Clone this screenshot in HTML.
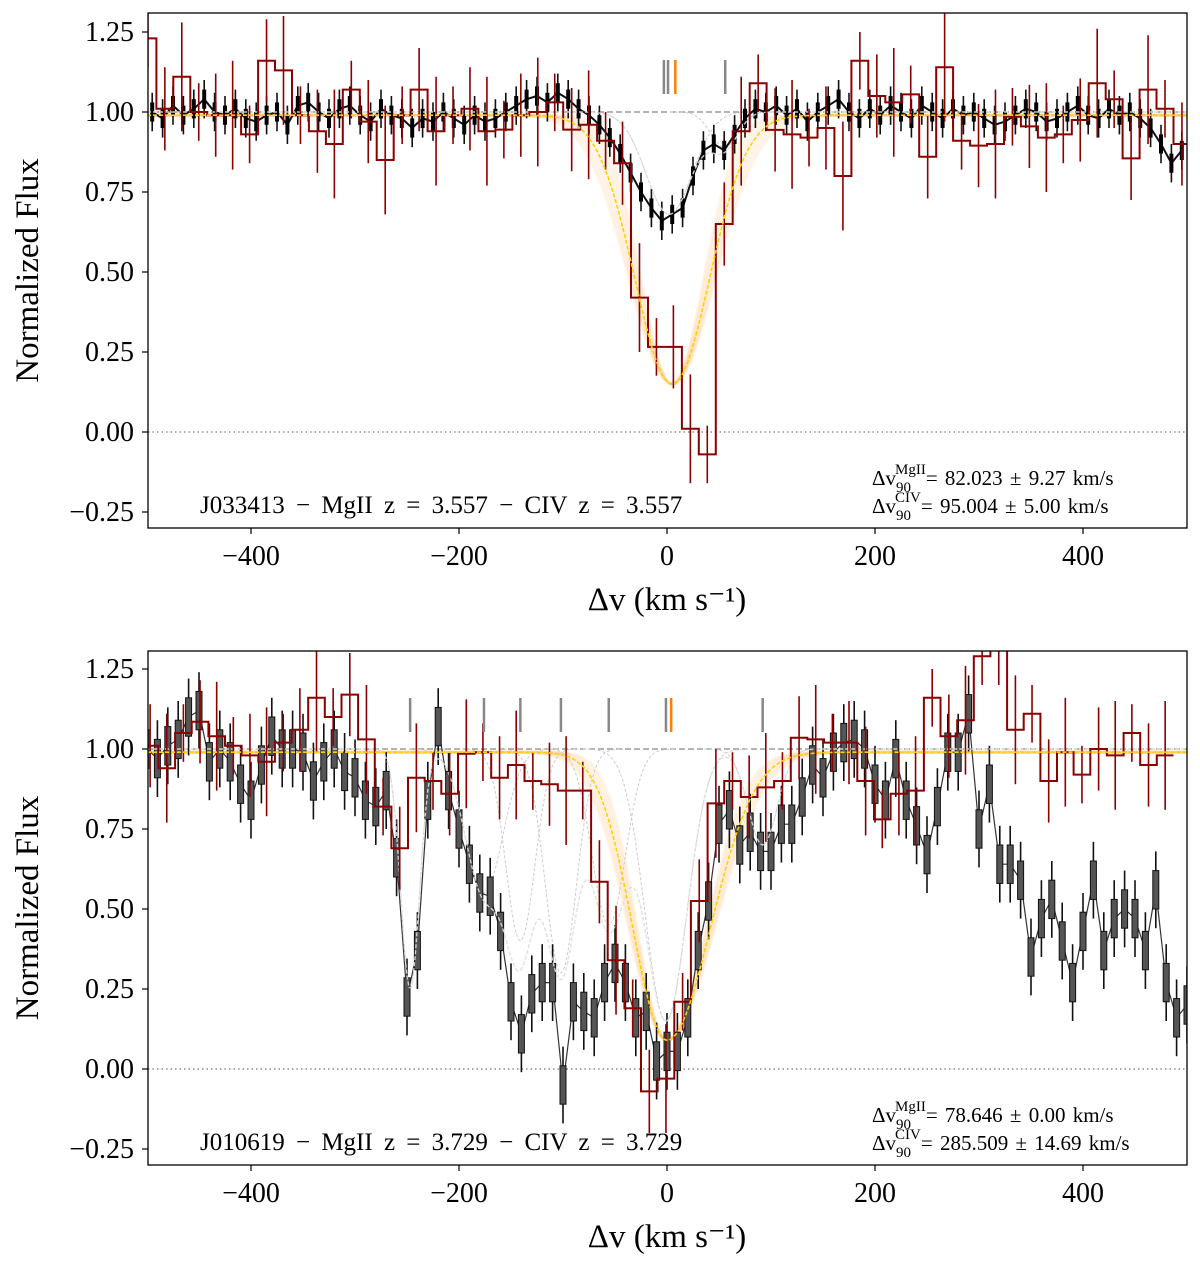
<!DOCTYPE html>
<html><head><meta charset="utf-8">
<style>
html,body{margin:0;padding:0;background:#fff;}
svg{display:block;font-family:"Liberation Serif","DejaVu Serif",serif;}
</style></head>
<body>
<svg id="chart" width="1200" height="1265" viewBox="0 0 1200 1265" xmlns="http://www.w3.org/2000/svg">
<defs>
<clipPath id="clipTop"><rect x="148" y="13" width="1039" height="515"/></clipPath>
<clipPath id="clipBot"><rect x="148" y="651" width="1039" height="514"/></clipPath>
</defs>
<g id="top-panel"></g>
<g id="bot-panel"></g>
</svg>
<script>
// ---------- data ----------
const xTicks = [-400, -200, 0, 200, 400];
const yTicks = [-0.25, 0.00, 0.25, 0.50, 0.75, 1.00, 1.25];
const yTickLabels = ["\u22120.25", "0.00", "0.25", "0.50", "0.75", "1.00", "1.25"];

// top panel: CIV flux (black), start -495 km/s, step 10
const topCivFlux = [1.00,0.98,1.02,0.99,1.01,1.04,1.00,0.99,1.01,0.98,
0.97,0.99,1.00,0.96,1.02,1.03,1.00,0.98,1.01,1.02,
0.99,0.97,1.01,0.99,0.98,0.95,0.98,0.97,1.00,0.98,
0.96,0.99,0.97,0.98,1.00,1.02,1.04,1.05,1.03,1.06,
1.04,1.01,0.99,0.96,0.92,0.87,0.81,0.75,0.70,0.66,
0.68,0.70,0.80,0.88,0.90,0.88,0.93,0.98,1.01,1.00,
1.02,0.99,1.01,0.97,1.00,1.02,1.04,1.00,0.98,1.01,
0.99,1.02,1.00,0.98,1.02,1.00,0.98,1.01,0.99,1.00,
0.98,0.96,0.97,0.99,1.01,1.00,0.97,0.98,1.00,1.02,
0.99,0.98,1.01,0.99,1.00,0.98,0.95,0.90,0.84,0.88];
// top panel: MgII flux (red histogram), bins from -507.3, width 16.3
const topMgFlux = [1.23,1.01,1.11,1.00,0.99,0.99,0.93,1.16,1.13,0.99,
0.94,0.90,1.07,0.97,0.85,0.99,1.07,0.94,0.99,1.01,
0.94,0.945,0.99,1.00,1.03,0.945,0.96,0.91,0.84,0.42,
0.266,0.266,0.01,-0.07,0.65,0.94,1.09,0.944,0.93,0.92,
0.95,0.80,1.16,1.05,1.03,1.055,0.86,1.14,0.91,0.895,
0.90,0.985,0.955,0.92,0.93,0.975,1.09,1.04,0.855,1.07,
1.01,0.90,1.03];
const topCompTicksGrey = [-3, 1, 56];
const topCompTicksOrange = [8];

// bottom panel: CIV flux, start -500, step 10
const botCivFlux = [1.00,0.97,1.01,1.03,1.10,1.12,0.96,1.00,0.96,0.89,
0.84,0.95,1.04,1.00,1.00,0.99,0.90,0.96,1.00,0.93,
0.91,0.84,0.82,0.87,0.66,0.225,0.37,0.84,1.07,0.87,
0.75,0.64,0.55,0.54,0.43,0.21,0.11,0.235,0.27,0.27,
-0.05,0.21,0.18,0.16,0.27,0.33,0.27,0.16,0.18,0.025,
0.055,0.055,0.16,0.37,0.525,0.765,0.81,0.70,0.74,0.68,
0.68,0.765,0.765,0.85,0.95,0.91,0.99,1.02,1.03,1.00,
0.89,0.84,0.97,0.84,0.76,0.67,0.82,0.99,0.99,1.11,
0.75,0.89,0.64,0.64,0.59,0.35,0.47,0.53,0.40,0.27,
0.43,0.59,0.37,0.47,0.50,0.47,0.37,0.56,0.27,0.16,0.20];
// bottom panel: MgII histogram, bins from -521, width 16
const botMgFlux = [1.04,1.01,0.94,1.05,1.085,1.04,1.01,0.98,0.96,1.02,
1.06,1.16,1.10,1.17,1.03,0.82,0.69,0.91,0.90,0.86,
0.985,0.99,0.91,0.95,0.90,0.89,0.87,0.87,0.585,0.34,
0.19,-0.07,-0.03,0.21,0.525,0.83,0.90,0.85,0.88,0.90,
1.035,1.03,1.02,1.02,0.90,0.78,0.86,0.87,1.16,1.04,
1.09,1.29,1.33,1.06,1.11,0.90,0.99,0.92,1.00,0.98,
1.05,0.95,0.98];
const botCompTicksGrey = [-247,-176,-141,-102,-56,-1,92];
const botCompTicksOrange = [4];

// ---------- helpers ----------
const NS = "http://www.w3.org/2000/svg";
function X(v){ return 667 + v*1.04; }
function mk(tag, attrs, parent){
  const e = document.createElementNS(NS, tag);
  for (const k in attrs) e.setAttribute(k, attrs[k]);
  parent.appendChild(e);
  return e;
}
function gauss(v,c,s){ return Math.exp(-(v-c)*(v-c)/(2*s*s)); }

function drawPanel(g, cfg){
  const Y = f => cfg.y0 - f*320;
  const clip = mk('g', {'clip-path': 'url(#' + cfg.clip + ')'}, g);
  
  

  for (let k = 0; k < 8; k++){
    let d = '';
    for (let v = -500; v <= 500; v += 2){
      const f = cfg.fit(v, k);
      d += (v === -500 ? 'M' : 'L') + X(v).toFixed(1) + ' ' + Y(f).toFixed(1);
    }
    const p = mk('path', {d: d, fill: 'none', stroke: '#ffc98a', 'stroke-width': 3, opacity: 0.2}, clip);
    
    
  }

  const l1 = mk('line', {x1: 148, x2: 1187, y1: Y(1.0), y2: Y(1.0), stroke: '#888', 'stroke-width': 1.3, 'stroke-dasharray': '6 3'}, clip);
  
  
  const l0 = mk('line', {x1: 148, x2: 1187, y1: Y(0), y2: Y(0), stroke: '#777', 'stroke-width': 1.3, 'stroke-dasharray': '1.5 3'}, clip);
  
  

  cfg.comps.forEach(c => {
    let d = '';
    for (let v = c[0] - 4*c[2]; v <= c[0] + 4*c[2]; v += 2){
      const f = 1 - c[1]*gauss(v, c[0], c[2]);
      d += (d ? 'L' : 'M') + X(v).toFixed(1) + ' ' + Y(f).toFixed(1);
    }
    const p = mk('path', {d: d, fill: 'none', stroke: '#ccc', 'stroke-width': 1, 'stroke-dasharray': '3 2'}, clip);
    
    
  });

  const civ = cfg.civ;
  let dl = '';
  civ.forEach((f, i) => {
    const v = cfg.civStart + i*10;
    dl += (i ? 'L' : 'M') + X(v).toFixed(1) + ' ' + Y(f).toFixed(1);
  });
  const sp = mk('path', {d: dl, fill: 'none', stroke: cfg.boxes ? '#333' : '#111', 'stroke-width': cfg.boxes ? 1.2 : 2}, clip);
  
  
  civ.forEach((f, i) => {
    const v = cfg.civStart + i*10;
    const e = cfg.civErr;
    const w = mk('line', {x1: X(v), x2: X(v), y1: Y(f + e*2), y2: Y(f - e*2), stroke: '#111', 'stroke-width': 1.6}, clip);
    
    
    if (cfg.boxes){
      const r = mk('rect', {x: X(v) - 3, y: Y(f + e), width: 6, height: e*640, fill: '#555', stroke: '#111', 'stroke-width': 1}, clip);
      
      
    } else {
      const r = mk('line', {x1: X(v), x2: X(v), y1: Y(f + e), y2: Y(f - e), stroke: '#000', 'stroke-width': 4}, clip);
      
      
    }
  });

  let dm = '';
  for (let v = -500; v <= 500; v += 2){
    let f = 1;
    cfg.comps.forEach(c => { f -= c[1]*gauss(v, c[0], c[2]); });
    dm += (v === -500 ? 'M' : 'L') + X(v).toFixed(1) + ' ' + Y(Math.max(f, 0)).toFixed(1);
  }
  const mm = mk('path', {d: dm, fill: 'none', stroke: '#ddd', 'stroke-width': 1.4, 'stroke-dasharray': '4 2', opacity: 0.9}, clip);
  
  

  const mg = cfg.mg;
  let dh = '';
  mg.forEach((f, i) => {
    const a = cfg.mgStart + i*cfg.mgW, b = a + cfg.mgW;
    dh += (i ? 'L' : 'M') + X(a).toFixed(1) + ' ' + Y(f).toFixed(1) + 'L' + X(b).toFixed(1) + ' ' + Y(f).toFixed(1);
  });
  const hp = mk('path', {d: dh, fill: 'none', stroke: '#8b0000', 'stroke-width': 2}, clip);
  
  
  mg.forEach((f, i) => {
    const c = cfg.mgStart + (i + 0.5)*cfg.mgW;
    const e = 0.09 + 0.04*((i*7) % 3);
    const w = mk('line', {x1: X(c), x2: X(c), y1: Y(f + e), y2: Y(f - e), stroke: '#8b0000', 'stroke-width': 1.6}, clip);
    
    
  });

  let dy = '';
  for (let v = -500; v <= 500; v += 2){
    dy += (v === -500 ? 'M' : 'L') + X(v).toFixed(1) + ' ' + Y(cfg.fit(v, -1)).toFixed(1);
  }
  const yf = mk('path', {d: dy, fill: 'none', stroke: '#ffd000', 'stroke-width': 1.6, 'stroke-dasharray': '4 2'}, clip);
  
  

  const ty0 = cfg.top + 47, ty1 = cfg.top + 81;
  cfg.ticksGrey.forEach(v => {
    const t = mk('line', {x1: X(v), x2: X(v), y1: ty0, y2: ty1, stroke: '#888', 'stroke-width': 2.5}, g);
    
    
  });
  cfg.ticksOrange.forEach(v => {
    const t = mk('line', {x1: X(v), x2: X(v), y1: ty0, y2: ty1, stroke: '#ff8000', 'stroke-width': 2.5}, g);
    
    
  });

  const fr = mk('rect', {x: 148, y: cfg.top, width: 1039, height: cfg.bottom - cfg.top, fill: 'none', stroke: '#000', 'stroke-width': 1.3}, g);
  
  

  xTicks.forEach(v => {
    const t = mk('line', {x1: X(v), x2: X(v), y1: cfg.bottom, y2: cfg.bottom + 6, stroke: '#000', 'stroke-width': 1.2}, g);
    
    
    const tx = mk('text', {x: X(v), y: cfg.bottom + 37, 'font-size': 28, 'text-anchor': 'middle'}, g);
    tx.textContent = v < 0 ? '\u2212' + Math.abs(v) : String(v);
    
    
  });
  yTicks.forEach((f, i) => {
    const t = mk('line', {x1: 142, x2: 148, y1: Y(f), y2: Y(f), stroke: '#000', 'stroke-width': 1.2}, g);
    
    
    const tx = mk('text', {x: 134, y: Y(f) + 9, 'font-size': 28, 'text-anchor': 'end'}, g);
    tx.textContent = yTickLabels[i];
    
    
  });

  const yl = mk('text', {x: 0, y: 0, 'font-size': 33, 'text-anchor': 'middle', transform: 'translate(38,' + ((cfg.top + cfg.bottom)/2) + ') rotate(-90)'}, g);
  yl.textContent = 'Normalized Flux';
  
  
  const xl = mk('text', {x: 667, y: cfg.bottom + 82, 'font-size': 33, 'text-anchor': 'middle'}, g);
  xl.textContent = '\u0394v (km s\u207B\u00B9)';
  
  

  const title = mk('text', {x: 200, y: cfg.bottom - 15, 'font-size': 25, 'word-spacing': 5}, g);
  title.textContent = cfg.label;
  
  

  cfg.dv.forEach((s, k) => {
    const t = mk('text', {x: 872, y: cfg.bottom - 43 + k*28, 'font-size': 21, 'word-spacing': 2}, g);
    
    
    const a = mk('tspan', {}, t); a.textContent = '\u0394v';
    const sb = mk('tspan', {dy: 7, 'font-size': 15}, t); sb.textContent = '90';
    const sp2 = mk('tspan', {dx: -16, dy: -18, 'font-size': 15}, t); sp2.textContent = s[0];
    const r = mk('tspan', {dy: 11}, t); r.textContent = '= ' + s[1];
  });
}

drawPanel(document.getElementById('top-panel'), {
  y0: 432, top: 13, bottom: 528, clip: 'clipTop',
  civ: topCivFlux, civStart: -495, civErr: 0.03, boxes: false,
  mg: topMgFlux, mgStart: -507.3, mgW: 16.3,
  comps: [[2, 0.32, 22], [55, 0.11, 13]],
  fit: (v, k) => { const s = 36 + (k < 0 ? 0 : (k - 3.5)*1.6); return 0.99 - 0.84*gauss(v, 5, s); },
  ticksGrey: topCompTicksGrey, ticksOrange: topCompTicksOrange,
  label: 'J033413  \u2212  MgII z = 3.557  \u2212  CIV z = 3.557',
  dv: [['MgII', '82.023 \u00B1 9.27 km/s'], ['CIV', '95.004 \u00B1 5.00 km/s']]
});

drawPanel(document.getElementById('bot-panel'), {
  y0: 1069, top: 651, bottom: 1165, clip: 'clipBot',
  civ: botCivFlux, civStart: -500, civErr: 0.06, boxes: true,
  mg: botMgFlux, mgStart: -521, mgW: 16,
  comps: [[-247, 0.75, 9], [-176, 0.45, 18], [-141, 0.6, 14], [-102, 0.7, 15], [-56, 0.55, 16], [-1, 0.85, 20], [92, 0.3, 14]],
  fit: (v, k) => { const d = k < 0 ? 0 : (k - 3.5)*1.2; const s = v < 0 ? 33 + d : 42 + d; return 0.99 - 0.9*gauss(v, 0, s); },
  ticksGrey: botCompTicksGrey, ticksOrange: botCompTicksOrange,
  label: 'J010619  \u2212  MgII z = 3.729  \u2212  CIV z = 3.729',
  dv: [['MgII', '78.646 \u00B1 0.00 km/s'], ['CIV', '285.509 \u00B1 14.69 km/s']]
});
</script>
</body></html>
